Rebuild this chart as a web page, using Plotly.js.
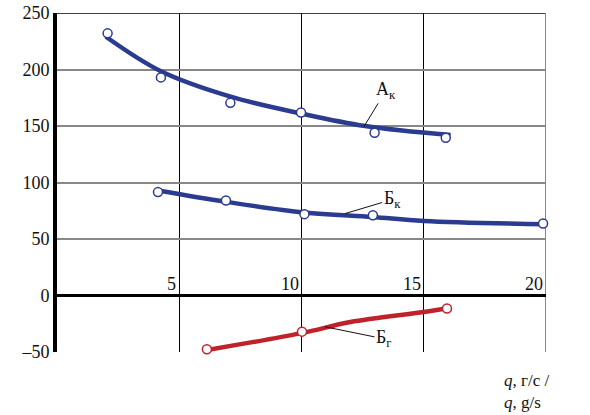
<!DOCTYPE html>
<html>
<head>
<meta charset="utf-8">
<script src="https://cdn.plot.ly/plotly-3.0.1.min.js"></script>
<style>html,body{margin:0;padding:0;background:#fff}#chart{width:590px;height:415px}</style>
</head>
<body>
<div id="chart"></div>
<script>
// Measured points (open circles)
const akX = [2.07, 4.25, 7.09, 9.98, 12.99, 15.9];
const akY = [232, 193, 170.5, 162, 144, 139.5];
const bkX = [4.13, 6.91, 10.12, 12.92, 19.88];
const bkY = [91.5, 84, 72, 71, 63.7];
const bgX = [6.13, 10.02, 15.95];
const bgY = [-47.5, -32, -11.5];

// Fitted curves
const akFitX = [2.0, 4.25, 7.1, 10.0, 12.6, 16.1];
const akFitY = [229, 198.5, 176, 161, 150, 142];
const bkFitX = [4.13, 6.9, 10.1, 12.9, 15.0, 20.0];
const bkFitY = [93, 83, 73.5, 69.5, 66, 63];
const bgFitX = [6.1, 10.0, 12.0, 15.0, 16.0];
const bgFitY = [-48.4, -33.3, -23.5, -14.6, -11.1];

// Ticks
const xTickVals = [5, 10, 15, 20];
const xTickText = ['5', '10', '15', '20'];
const yTickVals = [-50, 0, 50, 100, 150, 200, 250];
const yTickText = ['\u201350', '0', '50', '100', '150', '200', '250'];

// Curve labels
const curveLabels = [
  {text: 'А<sub>к</sub>', x: 12.56, y: 149.7, ax: 22, ay: -36},
  {text: 'Б<sub>к</sub>', x: 11.78, y: 72.5, ax: 47, ay: -14},
  {text: 'Б<sub>г</sub>', x: 10.96, y: -27.7, ax: 59, ay: 12}
];

const BLUE = '#2b3b8f';
const RED = '#c0222c';
const FONT = 'Liberation Serif';

function fit(x, y, color) {
  return {x: x, y: y, mode: 'lines', type: 'scatter', line: {color: color, width: 4.5, shape: 'spline', smoothing: 1}, hoverinfo: 'skip', showlegend: false, cliponaxis: false};
}
function pts(x, y, color) {
  return {x: x, y: y, mode: 'markers', type: 'scatter', marker: {symbol: 'circle', size: 9, color: '#ffffff', line: {color: color, width: 1.5}}, showlegend: false, cliponaxis: false};
}

const data = [
  fit(akFitX, akFitY, BLUE), pts(akX, akY, BLUE),
  fit(bkFitX, bkFitY, BLUE), pts(bkX, bkY, BLUE),
  fit(bgFitX, bgFitY, RED), pts(bgX, bgY, RED)
];

// plot area in pixels: x 57..546, y 13..352
const PX0 = 57, PW = 489, PY0 = 13, PH = 339;
function px(x) { return (x - PX0) / PW; }
function py(y) { return (PY0 + PH - y) / PH; }

const annotations = [];
xTickVals.forEach((v, i) => {
  annotations.push({x: v, y: 0, xref: 'x', yref: 'y', text: xTickText[i], showarrow: false,
    xanchor: 'right', yanchor: 'bottom', xshift: -1, yshift: 0, font: {family: FONT, size: 18, color: '#111'}});
});
curveLabels.forEach(c => {
  annotations.push({x: c.x, y: c.y, xref: 'x', yref: 'y', text: c.text, showarrow: true, arrowhead: 0,
    arrowwidth: 1, arrowcolor: '#111', ax: c.ax, ay: c.ay, standoff: 0, startstandoff: 0,
    font: {family: FONT, size: 18, color: '#111'}});
});
annotations.push({x: px(502), y: py(380), xref: 'paper', yref: 'paper', text: '<i>q</i>, г/с /',
  showarrow: false, xanchor: 'left', yanchor: 'middle', font: {family: FONT, size: 17, color: '#111'}});
annotations.push({x: px(502), y: py(402), xref: 'paper', yref: 'paper', text: '<i>q</i>, g/s',
  showarrow: false, xanchor: 'left', yanchor: 'middle', font: {family: FONT, size: 17, color: '#111'}});

const shapes = [
  {type: 'line', xref: 'paper', yref: 'y', x0: 0, x1: 1, y0: 250, y1: 250, line: {color: '#000', width: 1.5}, layer: 'between'},
  {type: 'line', xref: 'paper', yref: 'y', x0: 0, x1: 1, y0: 50, y1: 50, line: {color: '#000', width: 1.5}, layer: 'between'},
  {type: 'line', xref: 'x', yref: 'paper', x0: 20, x1: 20, y0: 0, y1: 1, line: {color: '#888', width: 2}, layer: 'between'}
];

const layout = {
  width: 590, height: 415,
  margin: {l: 57, r: 44, t: 13, b: 63},
  paper_bgcolor: '#fff', plot_bgcolor: '#fff',
  font: {family: FONT, size: 18, color: '#111'},
  xaxis: {range: [0, 20], tickvals: [5, 10, 15], showticklabels: false, showgrid: true, gridcolor: '#000', gridwidth: 1,
    zeroline: false, showline: false, ticks: ''},
  yaxis: {range: [-50, 250], tickvals: yTickVals, ticktext: yTickText, showgrid: true, gridcolor: '#888', gridwidth: 2,
    zeroline: true, zerolinecolor: '#000', zerolinewidth: 3.5, showline: true, linecolor: '#000', linewidth: 4,
    ticks: '', tickfont: {family: FONT, size: 18, color: '#111'}},
  annotations: annotations,
  shapes: shapes,
  showlegend: false
};

Plotly.newPlot('chart', data, layout, {displayModeBar: false, staticPlot: true});
</script>
</body>
</html>
